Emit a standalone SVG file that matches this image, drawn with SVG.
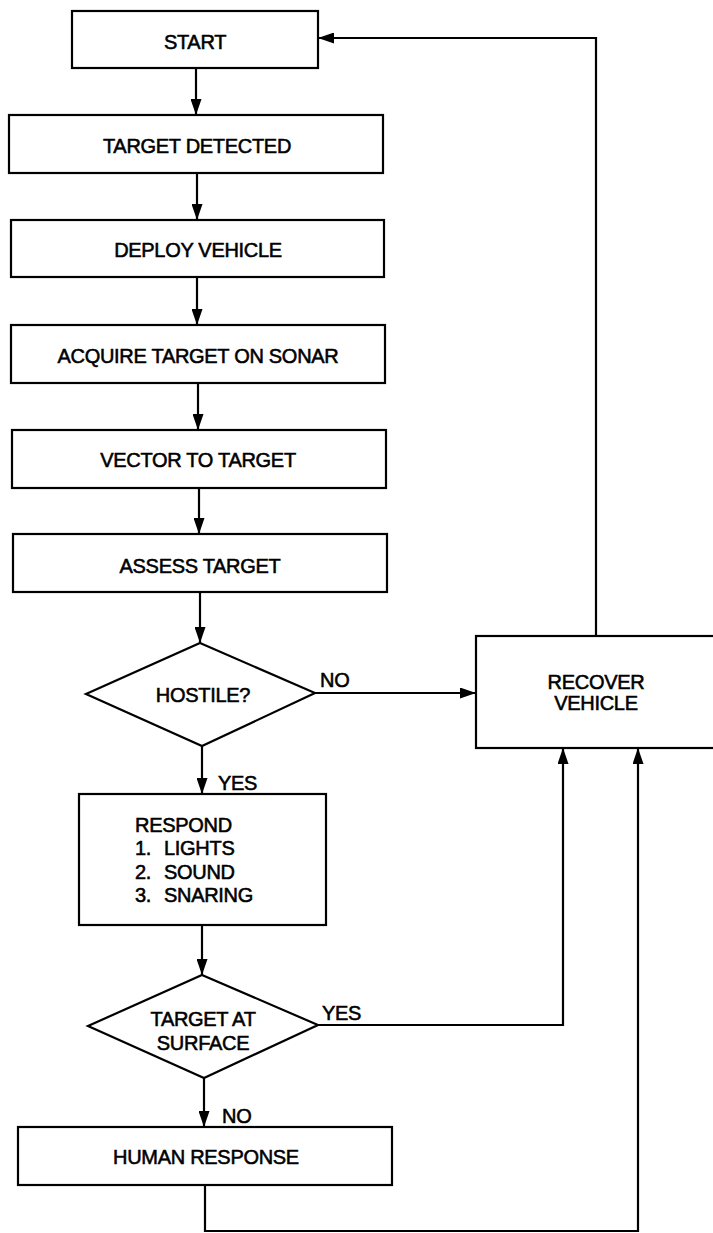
<svg xmlns="http://www.w3.org/2000/svg" width="713" height="1233" viewBox="0 0 713 1233">
<style>
.box{fill:#fff;stroke:#000;stroke-width:2.2}
.t{font-family:"Liberation Sans",Arial,sans-serif;font-size:20px;fill:#000;stroke:#000;stroke-width:0.55;text-anchor:middle;letter-spacing:-0.3px}
.l{text-anchor:start}
.c{fill:none;stroke:#000;stroke-width:2.2}
</style>
<defs>
<marker id="ah" markerUnits="userSpaceOnUse" markerWidth="17" markerHeight="11" refX="16" refY="5.5" orient="auto">
<path d="M0,0 L16,5.5 L0,11 z" fill="#000"/>
</marker>
</defs>
<rect width="713" height="1233" fill="#fff"/>
<g id="connectors">
<path class="c" d="M196,68 V115" marker-end="url(#ah)"/>
<path class="c" d="M197,173 V220" marker-end="url(#ah)"/>
<path class="c" d="M197,277 V325" marker-end="url(#ah)"/>
<path class="c" d="M198,383 V430" marker-end="url(#ah)"/>
<path class="c" d="M199,488 V534" marker-end="url(#ah)"/>
<path class="c" d="M200,592 V643" marker-end="url(#ah)"/>
<path class="c" d="M315,693 H476" marker-end="url(#ah)"/>
<path class="c" d="M202,746 V794" marker-end="url(#ah)"/>
<path class="c" d="M202,925 V975" marker-end="url(#ah)"/>
<path class="c" d="M318,1025 H563 V748" marker-end="url(#ah)"/>
<path class="c" d="M204,1078 V1127" marker-end="url(#ah)"/>
<path class="c" d="M205,1185 V1231 H638 V748" marker-end="url(#ah)"/>
<path class="c" d="M596,635 V38 H318" marker-end="url(#ah)"/>
<text class="t l" x="320" y="687">NO</text>
<text class="t l" x="218" y="790">YES</text>
<text class="t l" x="322" y="1020">YES</text>
<text class="t l" x="222" y="1123">NO</text>
</g>
<g id="start">
<rect class="box" x="72" y="11" width="246" height="57"/>
<text class="t" x="195" y="49">START</text>
</g>
<g id="target-detected">
<rect class="box" x="9" y="115" width="374" height="58"/>
<text class="t" x="197" y="153">TARGET DETECTED</text>
</g>
<g id="deploy-vehicle">
<rect class="box" x="11" y="220" width="373" height="57"/>
<text class="t" x="198" y="257">DEPLOY VEHICLE</text>
</g>
<g id="acquire-target">
<rect class="box" x="11" y="325" width="374" height="58"/>
<text class="t" x="198" y="363">ACQUIRE TARGET ON SONAR</text>
</g>
<g id="vector-to-target">
<rect class="box" x="12" y="430" width="374" height="58"/>
<text class="t" x="198" y="467">VECTOR TO TARGET</text>
</g>
<g id="assess-target">
<rect class="box" x="13" y="534" width="374" height="58"/>
<text class="t" x="200" y="573">ASSESS TARGET</text>
</g>
<g id="hostile">
<polygon class="box" points="200,643 315,693 202,746 86,694"/>
<text class="t" x="203" y="702">HOSTILE?</text>
</g>
<g id="recover-vehicle">
<rect class="box" x="476" y="636" width="242" height="112"/>
<text class="t" x="596" y="689">RECOVER</text>
<text class="t" x="596" y="710">VEHICLE</text>
</g>
<g id="respond">
<rect class="box" x="79" y="794" width="247" height="131"/>
<text class="t l" x="135" y="832">RESPOND</text>
<text class="t l" x="135" y="855">1.</text><text class="t l" x="164" y="855">LIGHTS</text>
<text class="t l" x="135" y="879">2.</text><text class="t l" x="164" y="879">SOUND</text>
<text class="t l" x="135" y="902">3.</text><text class="t l" x="164" y="902">SNARING</text>
</g>
<g id="target-at-surface">
<polygon class="box" points="202,975 318,1025 204,1078 88,1026"/>
<text class="t" x="203" y="1026">TARGET AT</text>
<text class="t" x="203" y="1050">SURFACE</text>
</g>
<g id="human-response">
<rect class="box" x="18" y="1127" width="374" height="58"/>
<text class="t" x="206" y="1164">HUMAN RESPONSE</text>
</g>
</svg>
